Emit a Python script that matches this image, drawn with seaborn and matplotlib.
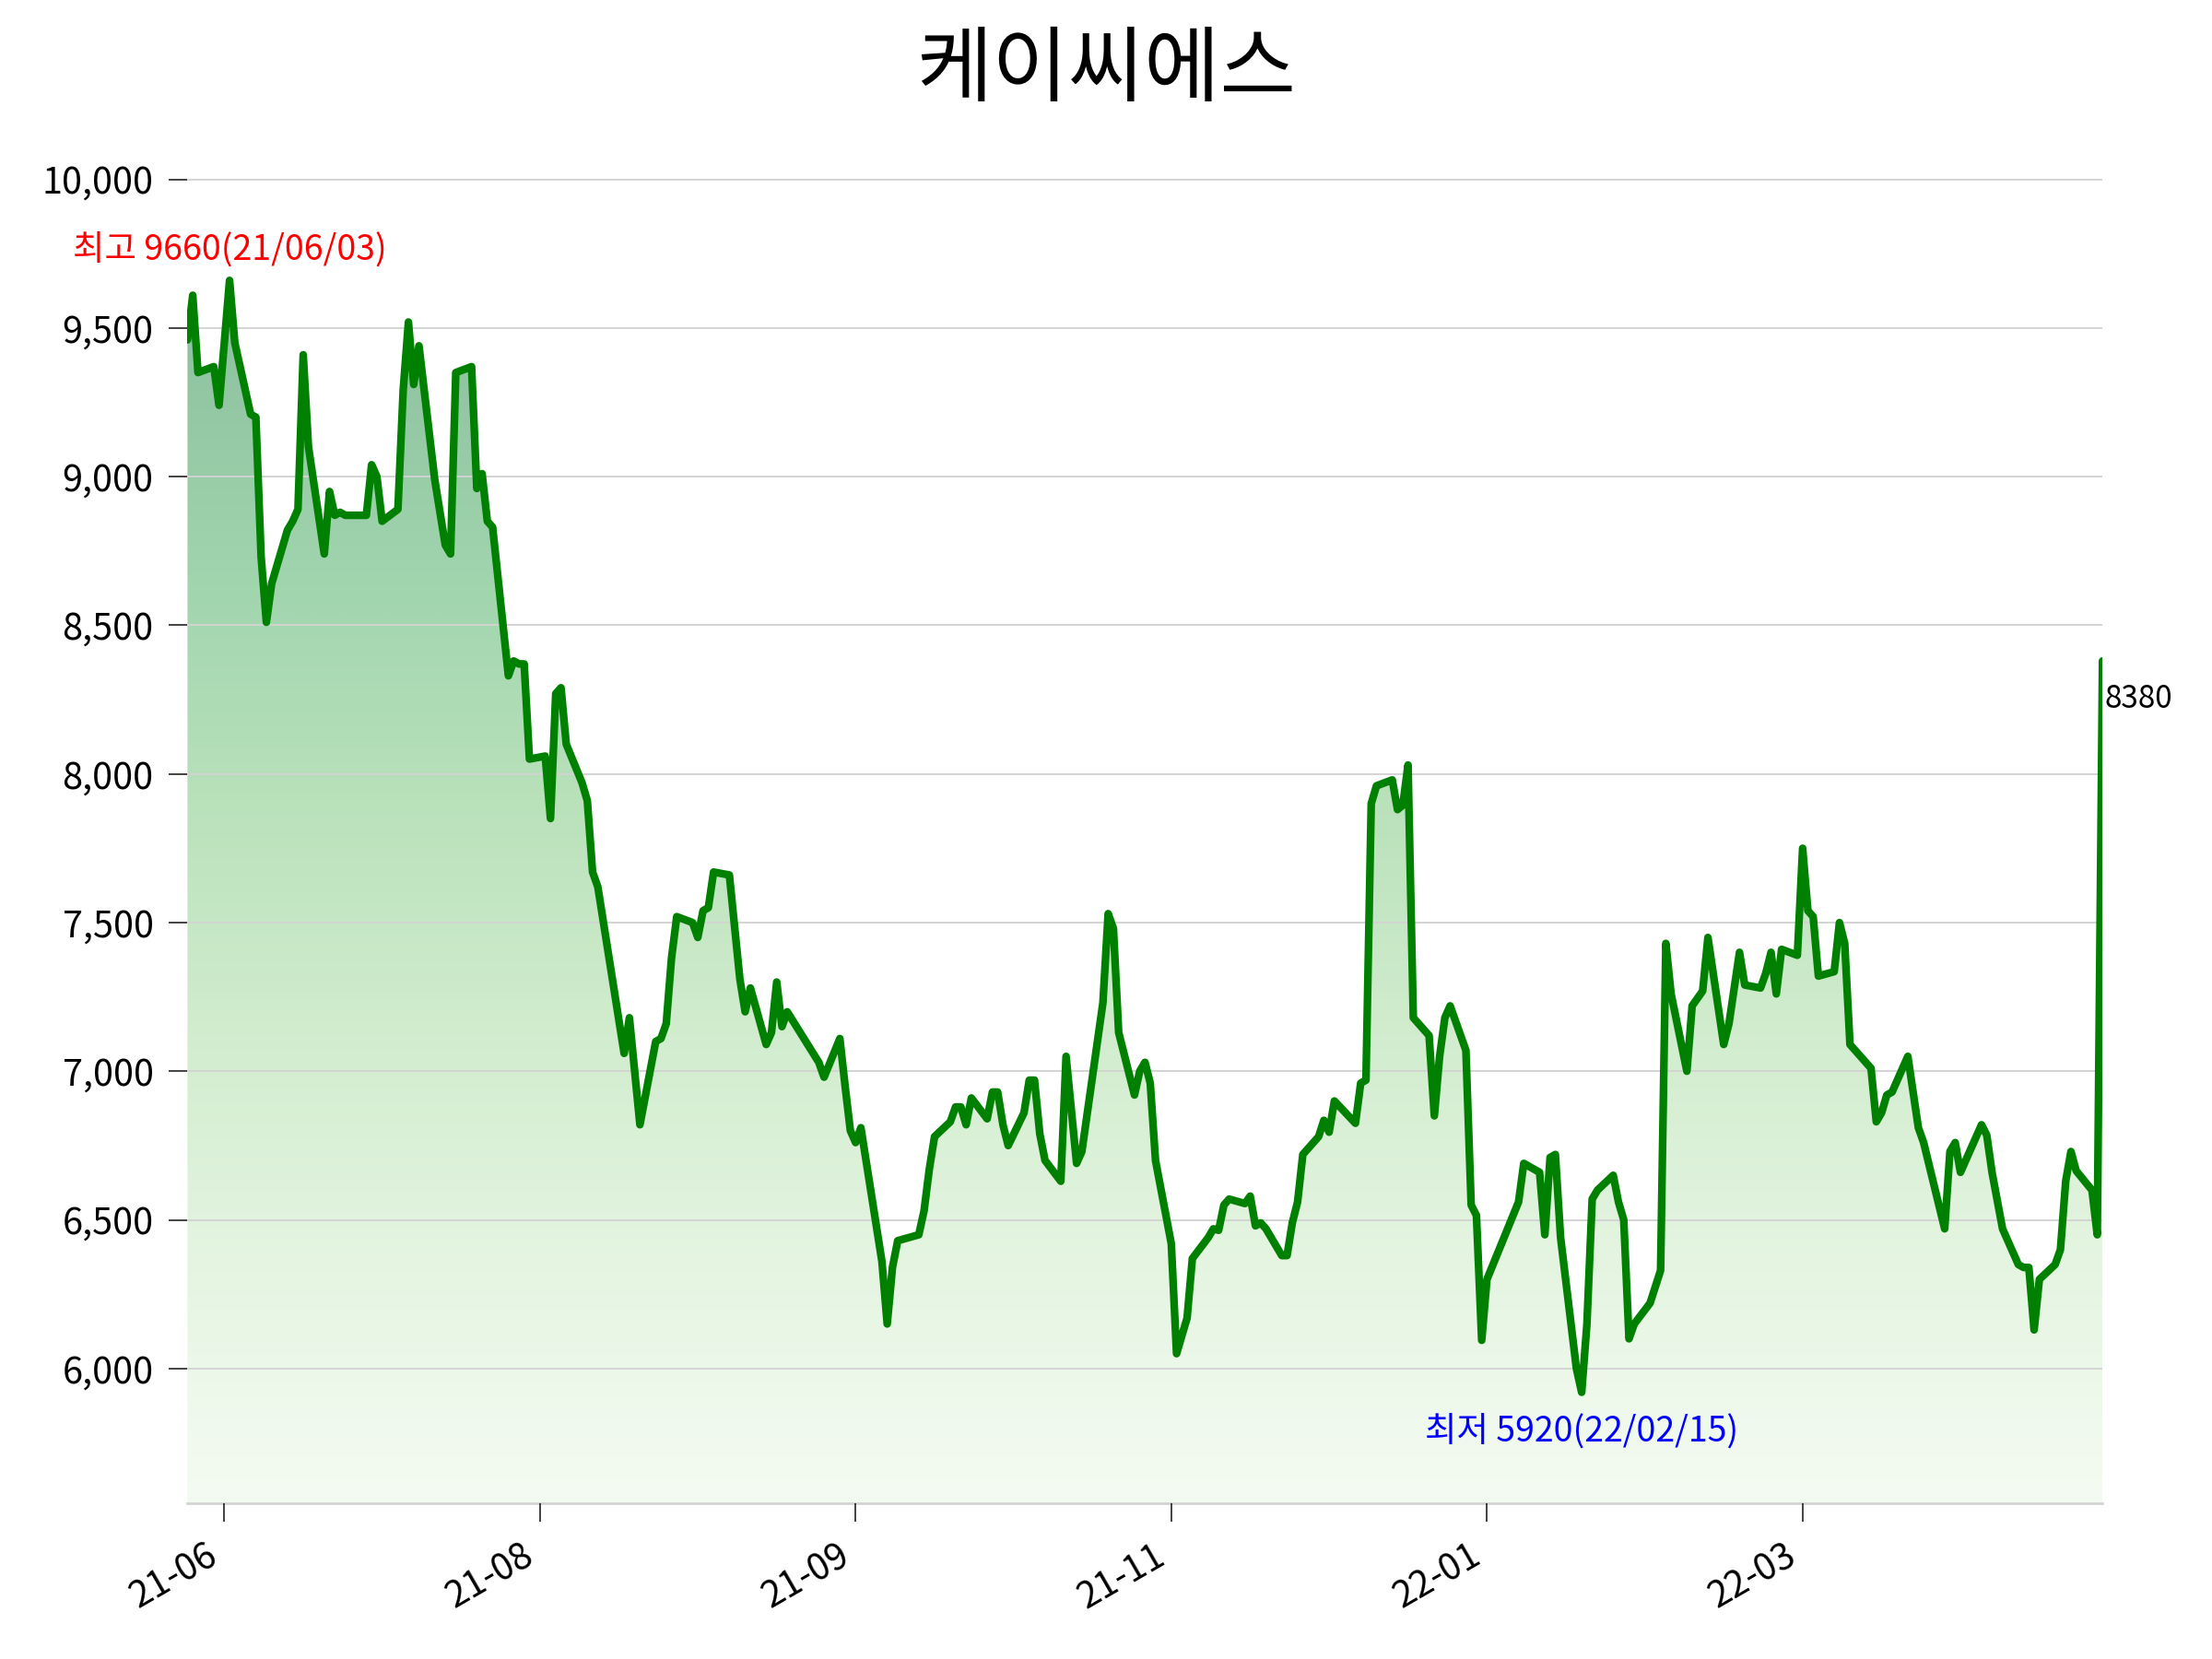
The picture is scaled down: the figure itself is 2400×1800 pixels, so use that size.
import numpy as np
import pandas as pd
import matplotlib
matplotlib.use("Agg")
import matplotlib.pyplot as plt
import matplotlib.dates as mdates
from matplotlib.patches import Polygon
import seaborn as sns

title = "케이씨에스"

dates = [
    "2021-05-26", "2021-05-27", "2021-05-28", "2021-05-31", "2021-06-01", "2021-06-03", "2021-06-04",
    "2021-06-07", "2021-06-08", "2021-06-09", "2021-06-10", "2021-06-11", "2021-06-14", "2021-06-15",
    "2021-06-16", "2021-06-17", "2021-06-18", "2021-06-21", "2021-06-22", "2021-06-23", "2021-06-24",
    "2021-06-25", "2021-06-28", "2021-06-29", "2021-06-30", "2021-07-01", "2021-07-02", "2021-07-05",
    "2021-07-06", "2021-07-07", "2021-07-08", "2021-07-09", "2021-07-12", "2021-07-14", "2021-07-15",
    "2021-07-16", "2021-07-19", "2021-07-20", "2021-07-21", "2021-07-22", "2021-07-23", "2021-07-26",
    "2021-07-27", "2021-07-28", "2021-07-29", "2021-07-30", "2021-08-02", "2021-08-03", "2021-08-04",
    "2021-08-05", "2021-08-06", "2021-08-09", "2021-08-10", "2021-08-11", "2021-08-12", "2021-08-17",
    "2021-08-18", "2021-08-20", "2021-08-23", "2021-08-24", "2021-08-25", "2021-08-26", "2021-08-27",
    "2021-08-30", "2021-08-31", "2021-09-01", "2021-09-02", "2021-09-03", "2021-09-06", "2021-09-08",
    "2021-09-09", "2021-09-10", "2021-09-13", "2021-09-14", "2021-09-15", "2021-09-16", "2021-09-17",
    "2021-09-23", "2021-09-24", "2021-09-27", "2021-09-28", "2021-09-29", "2021-09-30", "2021-10-01",
    "2021-10-05", "2021-10-06", "2021-10-07", "2021-10-08", "2021-10-12", "2021-10-13", "2021-10-14",
    "2021-10-15", "2021-10-18", "2021-10-19", "2021-10-20", "2021-10-21", "2021-10-22", "2021-10-25",
    "2021-10-26", "2021-10-27", "2021-10-28", "2021-10-29", "2021-11-01", "2021-11-02", "2021-11-03",
    "2021-11-04", "2021-11-05", "2021-11-08", "2021-11-09", "2021-11-11", "2021-11-12", "2021-11-16",
    "2021-11-17", "2021-11-18", "2021-11-19", "2021-11-22", "2021-11-23", "2021-11-24", "2021-11-25",
    "2021-11-26", "2021-11-29", "2021-11-30", "2021-12-02", "2021-12-03", "2021-12-06", "2021-12-07",
    "2021-12-08", "2021-12-09", "2021-12-10", "2021-12-13", "2021-12-14", "2021-12-15", "2021-12-16",
    "2021-12-17", "2021-12-20", "2021-12-21", "2021-12-22", "2021-12-23", "2021-12-24", "2021-12-27",
    "2021-12-28", "2021-12-29", "2021-12-30", "2022-01-03", "2022-01-04", "2022-01-05", "2022-01-06",
    "2022-01-07", "2022-01-10", "2022-01-11", "2022-01-12", "2022-01-13", "2022-01-14", "2022-01-17",
    "2022-01-18", "2022-01-19", "2022-01-20", "2022-01-21", "2022-01-24", "2022-01-25", "2022-01-26",
    "2022-01-27", "2022-01-28", "2022-02-03", "2022-02-04", "2022-02-07", "2022-02-08", "2022-02-09",
    "2022-02-10", "2022-02-11", "2022-02-14", "2022-02-15", "2022-02-16", "2022-02-17", "2022-02-18",
    "2022-02-21", "2022-02-22", "2022-02-23", "2022-02-24", "2022-02-25", "2022-02-28", "2022-03-02",
    "2022-03-03", "2022-03-04", "2022-03-07", "2022-03-08", "2022-03-10", "2022-03-11", "2022-03-14",
    "2022-03-15", "2022-03-17", "2022-03-18", "2022-03-21", "2022-03-22", "2022-03-23", "2022-03-24",
    "2022-03-25", "2022-03-28", "2022-03-29", "2022-03-30", "2022-03-31", "2022-04-01", "2022-04-04",
    "2022-04-05", "2022-04-06", "2022-04-07", "2022-04-11", "2022-04-12", "2022-04-13", "2022-04-14",
    "2022-04-15", "2022-04-18", "2022-04-20", "2022-04-21", "2022-04-25", "2022-04-26", "2022-04-27",
    "2022-04-28", "2022-05-02", "2022-05-03", "2022-05-04", "2022-05-06", "2022-05-09", "2022-05-10",
    "2022-05-11", "2022-05-12", "2022-05-13", "2022-05-16", "2022-05-17", "2022-05-18", "2022-05-19",
    "2022-05-20", "2022-05-23", "2022-05-24", "2022-05-25",
]

prices = [
    9460, 9610, 9350, 9370, 9240, 9660, 9450,
    9210, 9200, 8730, 8510, 8640, 8820, 8850,
    8890, 9410, 9100, 8740, 8950, 8870, 8880,
    8870, 8870, 8870, 9040, 9000, 8850, 8890,
    9290, 9520, 9310, 9440, 8990, 8770, 8740,
    9350, 9370, 8960, 9010, 8850, 8830, 8330,
    8380, 8370, 8370, 8050, 8060, 7850, 8270,
    8290, 8100, 7970, 7910, 7670, 7620, 7060,
    7180, 6820, 7100, 7110, 7160, 7380, 7520,
    7500, 7450, 7540, 7550, 7670, 7660, 7310,
    7200, 7280, 7090, 7130, 7300, 7150, 7200,
    7030, 6980, 7110, 6950, 6800, 6760, 6810,
    6360, 6150, 6340, 6430, 6450, 6530, 6670,
    6780, 6830, 6880, 6880, 6820, 6910, 6840,
    6930, 6930, 6820, 6750, 6860, 6970, 6970,
    6790, 6700, 6630, 7050, 6690, 6730, 7230,
    7530, 7480, 7130, 6920, 7000, 7030, 6960,
    6700, 6420, 6050, 6170, 6370, 6440, 6470,
    6465, 6550, 6570, 6555, 6580, 6480, 6490,
    6470, 6380, 6380, 6490, 6560, 6720, 6780,
    6835, 6795, 6900, 6825, 6960, 6970, 7900,
    7960, 7980, 7880, 7895, 8030, 7180, 7120,
    6850, 7050, 7180, 7220, 7070, 6550, 6515,
    6095, 6300, 6560, 6690, 6660, 6450, 6710,
    6720, 6440, 6000, 5920, 6150, 6570, 6600,
    6650, 6560, 6500, 6100, 6150, 6220, 6330,
    7430, 7260, 7000, 7220, 7270, 7450, 7090,
    7160, 7400, 7290, 7280, 7330, 7400, 7260,
    7410, 7390, 7750, 7540, 7520, 7320, 7335,
    7500, 7430, 7090, 7010, 6830, 6860, 6920,
    6930, 7050, 6810, 6760, 6470, 6730, 6760,
    6660, 6820, 6785, 6660, 6470, 6350, 6340,
    6340, 6130, 6300, 6350, 6400, 6630, 6730,
    6665, 6600, 6450, 8380,
]

tick_dates = ["2021-06-02", "2021-08-01", "2021-09-30", "2021-11-29", "2022-01-28", "2022-03-29"]
tick_labels = ["21-06", "21-08", "21-09", "21-11", "22-01", "22-03"]
y_ticks = [6000, 6500, 7000, 7500, 8000, 8500, 9000, 9500, 10000]

high_label = "최고 9660(21/06/03)"
low_label = "최저 5920(22/02/15)"
last_label = "8380"

sns.set_theme(style="white")
plt.rcParams['font.family'] = ['Noto Sans CJK KR', 'DejaVu Sans']

df = pd.DataFrame({"date": pd.to_datetime(dates), "price": prices})

fig = plt.figure(figsize=(8, 6), dpi=300)
ax = fig.add_axes([0.08475, 0.09372, 0.9505 - 0.08475, 0.898 - 0.09372])

sns.lineplot(data=df, x="date", y="price", ax=ax, color="green", linewidth=2.0,
             zorder=3, legend=False)

p = np.array(prices, dtype=float)
hi_i, lo_i = int(np.argmax(p)), int(np.argmin(p))
rng = p[hi_i] - p[lo_i]
ymin, ymax = p[lo_i] - 0.1 * rng, p[hi_i] + 0.1 * rng

xnum = mdates.date2num(df["date"])
x0, x1 = xnum[0], xnum[-1]
verts = np.column_stack([np.r_[x0, xnum, x1], np.r_[ymin, p, ymin]])
poly = Polygon(verts, closed=True, facecolor="none", edgecolor="none")
ax.add_patch(poly)
grad = np.linspace(0.8, 0.1, 512).reshape(-1, 1)
im = ax.imshow(grad, extent=[x0, x1, ymin, p[hi_i]], aspect="auto", cmap="Greens",
               vmin=0, vmax=1, alpha=0.5, origin="upper", zorder=1, interpolation="bilinear")
im.set_clip_path(poly)

ax.set_xlim(x0, x1)
ax.set_ylim(ymin, ymax)

ax.set_axisbelow(False)
ax.yaxis.grid(True, color="#d3d3d3", linewidth=0.45)
ax.xaxis.grid(False)
for s in ["left", "top", "right"]:
    ax.spines[s].set_visible(False)
ax.spines["bottom"].set_color("#d3d3d3")
ax.spines["bottom"].set_linewidth(0.65)

ax.set_xticks(mdates.date2num(pd.to_datetime(tick_dates)))
ax.set_xticklabels(tick_labels, rotation=30, ha="right")
ax.set_yticks(y_ticks)
ax.set_yticklabels([f"{v:,}" for v in y_ticks])
ax.tick_params(axis="both", which="major", bottom=True, left=True, direction="out",
               length=4.8, width=0.4, color="#222222", labelsize=9.5, pad=4,
               labelcolor="black")
ax.set_xlabel("")
ax.set_ylabel("")

ax.annotate(high_label, xy=(xnum[hi_i], p[hi_i]), xytext=(0, 7.6), textcoords="offset points",
            ha="center", va="center", color="red", fontsize=9)
ax.annotate(low_label, xy=(xnum[lo_i], p[lo_i]), xytext=(0, -10.4), textcoords="offset points",
            ha="center", va="center", color="blue", fontsize=9)
ax.annotate(last_label, xy=(xnum[-1], p[-1]), xytext=(0.5, -10), textcoords="offset points",
            ha="left", va="center", color="black", fontsize=8, annotation_clip=False)

fig.suptitle(title, fontsize=21.5, y=0.957, va="center", color="black", fontweight="light")

fig.savefig("out.png", dpi=300)
